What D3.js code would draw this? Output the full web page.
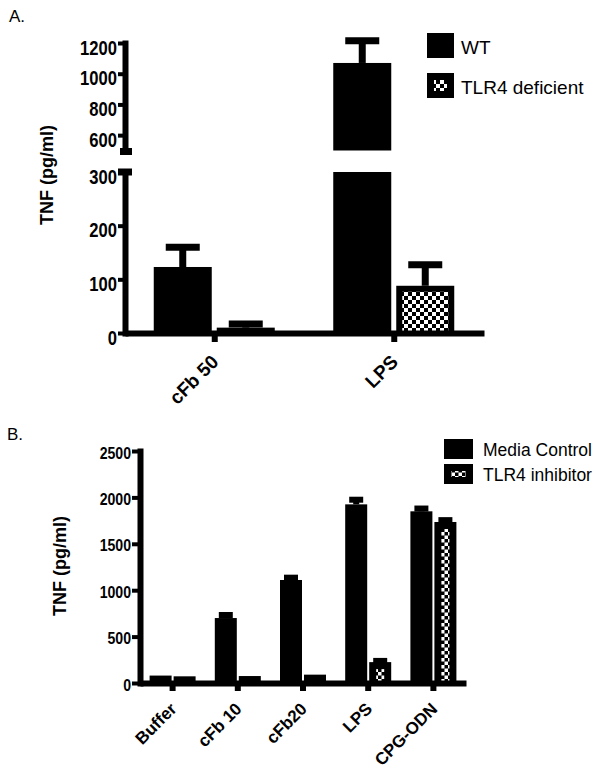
<!DOCTYPE html>
<html>
<head>
<meta charset="utf-8">
<script src="https://cdn.jsdelivr.net/npm/d3@7"></script>
<style>
body { margin: 0; background: #fff; }
</style>
</head>
<body>
<svg id="chart"></svg>
<script>
// ---- panel A data ----
var categoriesA = ["cFb 50", "LPS"];
var seriesA = ["WT", "TLR4 deficient"];
var wtValuesA = [123, 1070];
var wtErrorsA = [160, 1215];
var tlrValuesA = [10, 88];
var tlrErrorsA = [17, 127];
var lowTicksA = [0, 100, 200, 300];
var highTicksA = [600, 800, 1000, 1200];

// ---- panel B data ----
var categoriesB = ["Buffer", "cFb 10", "cFb20", "LPS", "CPG-ODN"];
var seriesB = ["Media Control", "TLR4 inhibitor"];
var mediaValuesB = [80, 700, 1110, 1925, 1850];
var mediaErrorsB = [80, 733, 1135, 1975, 1880];
var inhibValuesB = [72, 75, 90, 225, 1735];
var inhibErrorsB = [72, 75, 90, 238, 1755];
var ticksB = [0, 500, 1000, 1500, 2000, 2500];

var params = {
    width: 602,
    height: 769,
    font: "'Liberation Sans', Arial, sans-serif",
    tickScale: 0.83
};

var svg = d3.select("#chart")
    .attr("width", params.width)
    .attr("height", params.height);

var defs = svg.append("defs");

function addChecker(id, cell) {
    var p = defs.append("pattern")
        .attr("id", id)
        .attr("patternUnits", "userSpaceOnUse")
        .attr("width", cell * 2)
        .attr("height", cell * 2);
    p.append("rect").attr("width", cell * 2).attr("height", cell * 2).attr("fill", "#000");
    p.append("rect").attr("width", cell).attr("height", cell).attr("fill", "#fff");
    p.append("rect").attr("x", cell).attr("y", cell).attr("width", cell).attr("height", cell).attr("fill", "#fff");
}
addChecker("checkA", 4);
addChecker("checkB", 3.5);

function addGroup(parent, id) {
    return parent.append("g").attr("id", id);
}

// black bar, optional patterned inside with a thick black border
function drawBar(g, x, w, y0, y1, pattern, border) {
    g.append("rect")
        .attr("x", x).attr("y", y0)
        .attr("width", w).attr("height", Math.max(0, y1 - y0))
        .attr("fill", "#000");
    if (pattern) {
        var iw = w - 2 * border, ih = y1 - y0 - border;
        if (iw > 0 && ih > 0) {
            g.append("rect")
                .attr("x", x + border).attr("y", y0 + border)
                .attr("width", iw).attr("height", ih)
                .attr("fill", "url(#" + pattern + ")");
        }
    }
}

function drawError(g, cx, yVal, yErr, capW, sw) {
    if (yErr >= yVal) return; // no visible error
    g.append("line")
        .attr("x1", cx).attr("x2", cx)
        .attr("y1", yVal).attr("y2", yErr)
        .attr("stroke", "#000").attr("stroke-width", sw);
    g.append("line")
        .attr("x1", cx - capW / 2).attr("x2", cx + capW / 2)
        .attr("y1", yErr).attr("y2", yErr)
        .attr("stroke", "#000").attr("stroke-width", sw);
}

function styleAxis(axisG, fontSize, tickW, domainW) {
    axisG.attr("font-family", params.font)
        .attr("font-size", fontSize)
        .attr("font-weight", "bold");
    axisG.select(".domain")
        .attr("stroke", "#000")
        .attr("stroke-width", domainW)
        .attr("stroke-linecap", "square");
    axisG.selectAll(".tick line")
        .attr("stroke", "#000")
        .attr("stroke-width", tickW);
    axisG.selectAll(".tick text").attr("fill", "#000");
}

// condensed look for the y tick numbers
function squeezeYTicks(axisG, offset, dy) {
    axisG.selectAll(".tick text")
        .attr("x", -offset / params.tickScale)
        .attr("dy", dy)
        .attr("transform", "scale(" + params.tickScale + ",1)");
}

// ================= panel A =================
var gA = addGroup(svg, "panelA");
gA.append("text").attr("x", 9).attr("y", 22)
    .attr("font-family", params.font).attr("font-size", 17)
    .text("A.");

var xA = d3.scaleBand().domain(categoriesA).range([125, 484]);
var yLowA = d3.scaleLinear().domain([0, 300]).range([333, 172]);
var yHighA = d3.scaleLinear().domain([500, 1200]).range([150.5, 43]);

function yBroken(v) {
    return v <= 300 ? yLowA(v) : yHighA(v);
}

var barsA = addGroup(gA, "barsA");
var barWA = 58;
categoriesA.forEach(function(c, i) {
    var cx = xA(c) + xA.bandwidth() / 2;
    var groups = [
        { x: cx - barWA - 3, v: wtValuesA[i], e: wtErrorsA[i], pat: null },
        { x: cx + 2, v: tlrValuesA[i], e: tlrErrorsA[i], pat: "checkA" }
    ];
    groups.forEach(function(b) {
        drawBar(barsA, b.x, barWA, yLowA(Math.min(b.v, 300)), yLowA(0), b.pat, 6);
        if (b.v > 500) {
            drawBar(barsA, b.x, barWA, yHighA(b.v), yHighA(500), b.pat, 6);
        }
        drawError(barsA, b.x + barWA / 2, yBroken(b.v), yBroken(b.e), 34, 7);
    });
});

// y axes (broken)
var fmt = d3.format("d");
var axisLowA = gA.append("g").attr("transform", "translate(125,0)")
    .call(d3.axisLeft(yLowA).tickValues(lowTicksA).tickFormat(fmt).tickSize(7).tickSizeOuter(0).tickPadding(1));
styleAxis(axisLowA, 20, 4, 6);
squeezeYTicks(axisLowA, 8, "0.55em");
var axisHighA = gA.append("g").attr("transform", "translate(125,0)")
    .call(d3.axisLeft(yHighA).tickValues(highTicksA).tickFormat(fmt).tickSize(7).tickSizeOuter(0).tickPadding(1));
styleAxis(axisHighA, 20, 4, 6);
squeezeYTicks(axisHighA, 8, "0.55em");

// break marks
gA.append("line").attr("x1", 120).attr("x2", 132)
    .attr("y1", yHighA(500) + 1).attr("y2", yHighA(500) + 1)
    .attr("stroke", "#000").attr("stroke-width", 7);
gA.append("line").attr("x1", 118).attr("x2", 132)
    .attr("y1", yLowA(300)).attr("y2", yLowA(300))
    .attr("stroke", "#000").attr("stroke-width", 7);

// x axis
var axisXA = gA.append("g").attr("transform", "translate(0,333)")
    .call(d3.axisBottom(xA).tickSize(9).tickSizeOuter(0));
styleAxis(axisXA, 19, 6, 6);
axisXA.select(".domain").attr("stroke-linecap", "butt");
axisXA.selectAll(".tick text")
    .attr("x", 0).attr("y", 0).attr("dy", 0)
    .attr("text-anchor", "end")
    .attr("transform", "translate(5,30) rotate(-45)");

gA.append("text")
    .attr("transform", "translate(53,175) rotate(-90)")
    .attr("text-anchor", "middle")
    .attr("font-family", params.font).attr("font-size", 18).attr("font-weight", "bold")
    .text("TNF (pg/ml)");

// legend A
var legA = addGroup(gA, "legendA");
seriesA.forEach(function(s, i) {
    var y = 33 + i * 40;
    drawBar(legA, 427, 27, y, y + 25, i === 1 ? "checkA" : null, 7);
    if (i === 1) {
        legA.append("rect").attr("x", 427).attr("y", y + 18).attr("width", 27).attr("height", 7).attr("fill", "#000");
    }
    legA.append("text").attr("x", 461).attr("y", y + 21)
        .attr("font-family", params.font).attr("font-size", 19)
        .text(s);
});

// ================= panel B =================
var gB = addGroup(svg, "panelB");
gB.append("text").attr("x", 7).attr("y", 440)
    .attr("font-family", params.font).attr("font-size", 17)
    .text("B.");

var xB = d3.scaleBand().domain(categoriesB).range([140, 466]);
var yB = d3.scaleLinear().domain([0, 2500]).range([683, 451]);

var barsB = addGroup(gB, "barsB");
var barWB = 22;
categoriesB.forEach(function(c, i) {
    var cx = xB(c) + xB.bandwidth() / 2;
    var groups = [
        { x: cx - barWB - 1, v: mediaValuesB[i], e: mediaErrorsB[i], pat: null },
        { x: cx + 1, v: inhibValuesB[i], e: inhibErrorsB[i], pat: "checkB" }
    ];
    groups.forEach(function(b) {
        drawBar(barsB, b.x, barWB, yB(b.v), yB(0), b.pat, 7);
        drawError(barsB, b.x + barWB / 2, yB(b.v), yB(b.e), 14, 6);
    });
});

var axisYB = gB.append("g").attr("transform", "translate(140,0)")
    .call(d3.axisLeft(yB).tickValues(ticksB).tickFormat(fmt).tickSize(8).tickSizeOuter(0).tickPadding(1));
styleAxis(axisYB, 17, 4, 6);
squeezeYTicks(axisYB, 9, "0.42em");

var axisXB = gB.append("g").attr("transform", "translate(0,683)")
    .call(d3.axisBottom(xB).tickSize(8).tickSizeOuter(0));
styleAxis(axisXB, 17, 6, 6);
axisXB.select(".domain").attr("stroke-linecap", "butt");
axisXB.selectAll(".tick text")
    .attr("x", 0).attr("y", 0).attr("dy", 0)
    .attr("text-anchor", "end")
    .attr("transform", "translate(5,27) rotate(-45)");

gB.append("text")
    .attr("transform", "translate(66,566) rotate(-90)")
    .attr("text-anchor", "middle")
    .attr("font-family", params.font).attr("font-size", 18).attr("font-weight", "bold")
    .text("TNF (pg/ml)");

// legend B
var legB = addGroup(gB, "legendB");
seriesB.forEach(function(s, i) {
    var y = 439 + i * 25;
    drawBar(legB, 444, 29, y, y + 20, i === 1 ? "checkB" : null, 7);
    if (i === 1) {
        legB.append("rect").attr("x", 444).attr("y", y + 13).attr("width", 29).attr("height", 7).attr("fill", "#000");
    }
    legB.append("text").attr("x", 483).attr("y", y + 17)
        .attr("font-family", params.font).attr("font-size", 17.5)
        .text(s);
});
</script>
</body>
</html>
